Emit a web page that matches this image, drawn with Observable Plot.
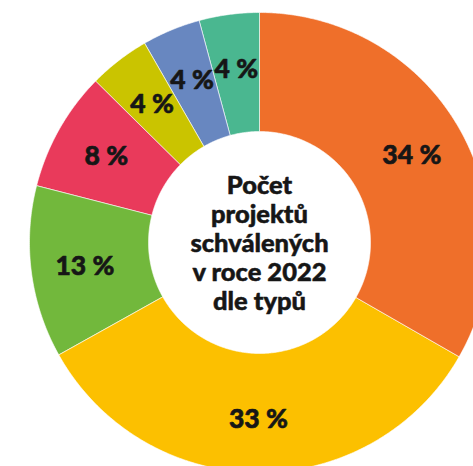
<!DOCTYPE html>
<html><head><meta charset="utf-8">
<script src="https://cdn.jsdelivr.net/npm/d3@7"></script>
<script src="https://cdn.jsdelivr.net/npm/@observablehq/plot@0.6"></script>
<style>
body{margin:0;background:#fff;}
#chart svg{overflow:hidden;display:block;}
</style>
</head><body><div id="chart"></div>
<script>
// Data (clockwise from 12 o'clock)
const categories = ["typ 1", "typ 2", "typ 3", "typ 4", "typ 5", "typ 6", "typ 7"];
const shares = [33.3, 33.6, 12.1, 8.4, 4.3, 4.1, 4.2];
const labels = ["34 %", "33 %", "13 %", "8 %", "4 %", "4 %", "4 %"];
const colors = ["#EF6F2A", "#FCC000", "#72B83C", "#E93A5B", "#CAC400", "#6887C0", "#4AB790"];
const titleLines = ["Počet", "projektů", "schválených", "v roce 2022", "dle typů"];

// Geometry in unit space (radius 1 = outer edge)
const OUTER = 1, INNER = 111 / 230, LABEL_R = 176 / 230;
const arcs = d3.pie().sort(null).value(d => d)(shares);

const polys = [];
arcs.forEach((a, i) => {
  const n = Math.max(8, Math.ceil((a.endAngle - a.startAngle) / (Math.PI / 360)));
  for (let k = 0; k <= n; k++) {
    const t = a.startAngle + (a.endAngle - a.startAngle) * k / n;
    polys.push({key: categories[i], color: colors[i], x: OUTER * Math.sin(t), y: OUTER * Math.cos(t)});
  }
  for (let k = n; k >= 0; k--) {
    const t = a.startAngle + (a.endAngle - a.startAngle) * k / n;
    polys.push({key: categories[i], color: colors[i], x: INNER * Math.sin(t), y: INNER * Math.cos(t)});
  }
});

const labelData = arcs.map((a, i) => {
  const m = (a.startAngle + a.endAngle) / 2;
  return {label: labels[i], x: LABEL_R * Math.sin(m), y: LABEL_R * Math.cos(m)};
});

const W = 473, H = 466, R = 230, CX = 259, CY = 242;

const chart = Plot.plot({
  width: W,
  height: H,
  margin: 0,
  style: {fontFamily: "Lato, 'Open Sans', sans-serif", background: "#fff"},
  x: {domain: [-CX / R, (W - CX) / R], axis: null},
  y: {domain: [-(H - CY) / R, CY / R], axis: null},
  color: {type: "identity"},
  marks: [
    Plot.line(polys, {x: "x", y: "y", z: "key", fill: "color", stroke: "#ffffff", strokeWidth: 0.6, curve: "linear-closed", clip: true}),
    Plot.text(labelData, {x: "x", y: "y", text: "label", fill: "#161616", fontSize: 26.5, fontWeight: 900, textAnchor: "middle", dy: 1, stroke: "#161616", strokeWidth: 0.6}),
    Plot.text([titleLines.join("\n")], {x: () => 0, y: () => 0, text: d => d, fill: "#161616", fontSize: 25.5, fontWeight: 900, lineHeight: 1.14, textAnchor: "middle", stroke: "#161616", strokeWidth: 0.5})
  ]
});
document.getElementById("chart").appendChild(chart);
</script>
</body></html>
